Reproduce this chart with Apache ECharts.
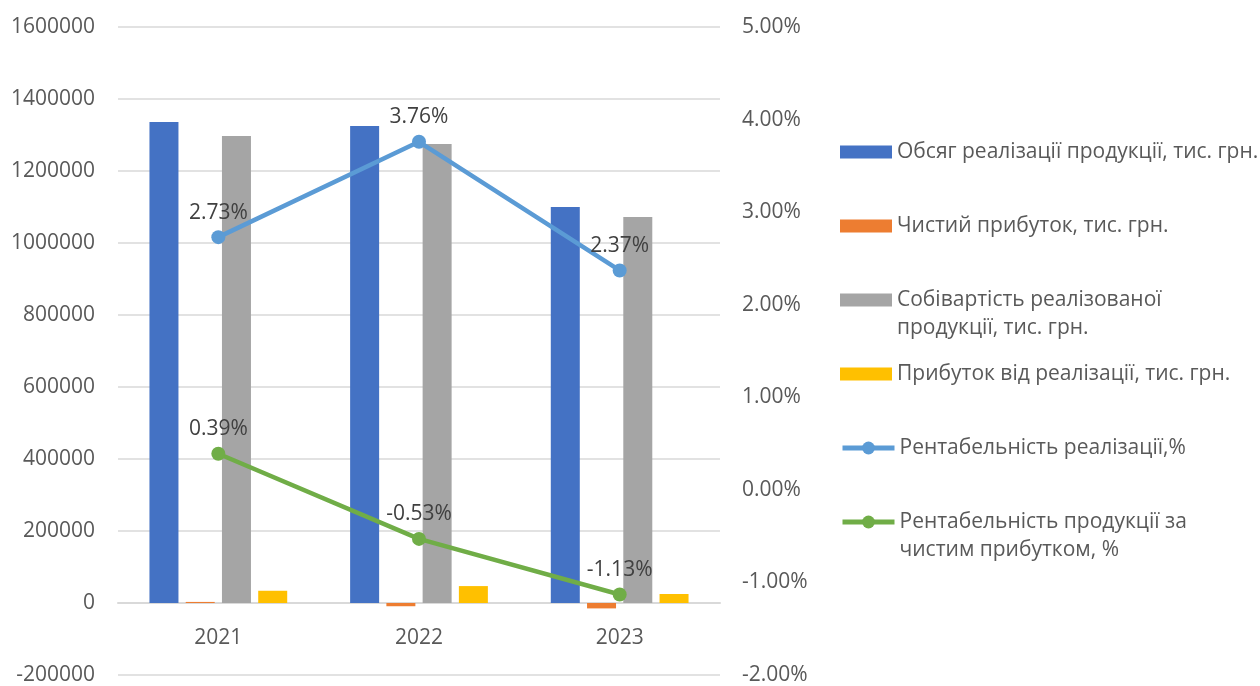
<!DOCTYPE html>
<html>
<head>
<meta charset="utf-8">
<script src="https://cdn.jsdelivr.net/npm/echarts@6/dist/echarts.min.js"></script>
<style>
html,body{margin:0;padding:0;background:#fff;}
#chart{width:1260px;height:686px;}
</style>
</head>
<body>
<div id="chart"></div>
<script>
const years = ['2021', '2022', '2023'];
const salesVolume = [1336000, 1325000, 1100000];
const netProfit = [3000, -9000, -15000];
const costOfSales = [1297000, 1275000, 1072000];
const salesProfit = [34000, 47000, 25000];
const salesProfitability = [2.73, 3.76, 2.37];
const netProfitability = [0.39, -0.53, -1.13];

const names = [
  'Обсяг реалізації продукції, тис. грн.',
  'Чистий прибуток, тис. грн.',
  'Собівартість реалізованої\nпродукції, тис. грн.',
  'Прибуток від реалізації, тис. грн.',
  'Рентабельність реалізації,%',
  'Рентабельність продукції за\nчистим прибутком, %'
];
const colors = ['#4472C4', '#ED7D31', '#A5A5A5', '#FFC000', '#5B9BD5', '#70AD47'];

const FONT = 'Open Sans';
const legendTops = [138, 212, 258, 360, 434, 480];

const legends = names.map((n, i) => {
  const twoLine = n.indexOf('\n') >= 0;
  const isLine = i >= 4;
  return {
    left: 840,
    top: legendTops[i],
    padding: 0,
    itemWidth: 52,
    itemHeight: isLine ? 16 : 13,
    selectedMode: false,
    icon: isLine ? undefined : 'rect',
    lineStyle: isLine ? { width: 5 } : undefined,
    data: [n],
    formatter: twoLine ? (name => '\n' + name) : undefined,
    textStyle: {
      fontFamily: FONT,
      fontSize: 21,
      lineHeight: 28,
      color: '#595959'
    }
  };
});

const barSeries = [salesVolume, netProfit, costOfSales, salesProfit].map((d, i) => ({
  name: names[i],
  type: 'bar',
  data: d,
  barWidth: 29,
  barGap: '25%',
  itemStyle: { color: colors[i] },
  yAxisIndex: 0
}));

const lineSeries = [salesProfitability, netProfitability].map((d, i) => ({
  name: names[4 + i],
  type: 'line',
  data: d,
  yAxisIndex: 1,
  symbol: 'circle',
  symbolSize: 14,
  lineStyle: { width: 4.5, color: colors[4 + i] },
  itemStyle: { color: colors[4 + i] },
  label: {
    show: true,
    position: 'top',
    distance: 7,
    formatter: p => p.value.toFixed(2) + '%',
    fontFamily: FONT,
    fontSize: 21,
    color: '#404040'
  },
  z: 5
}));

const chart = echarts.init(document.getElementById('chart'));
chart.setOption({
  animation: false,
  backgroundColor: '#fff',
  textStyle: { fontFamily: FONT },
  grid: { left: 118, right: 540, top: 27, bottom: 11, containLabel: false, outerBoundsMode: 'none' },
  legend: legends,
  xAxis: {
    type: 'category',
    data: years,
    axisLine: { show: true, onZero: true, lineStyle: { color: '#D9D9D9', width: 2 } },
    axisTick: { show: false },
    axisLabel: { fontFamily: FONT, fontSize: 21, color: '#595959', inside: true, margin: 26 }
  },
  yAxis: [
    {
      type: 'value',
      min: -200000,
      max: 1600000,
      interval: 200000,
      axisLine: { show: false },
      axisTick: { show: false },
      splitLine: { lineStyle: { color: '#D9D9D9', width: 1.5 } },
      axisLabel: { fontFamily: FONT, fontSize: 21, color: '#595959', margin: 23, formatter: v => String(v) }
    },
    {
      type: 'value',
      min: -2,
      max: 5,
      interval: 1,
      axisLine: { show: false },
      axisTick: { show: false },
      splitLine: { show: false },
      axisLabel: {
        fontFamily: FONT, fontSize: 21, color: '#595959', margin: 22,
        formatter: v => v.toFixed(2) + '%'
      }
    }
  ],
  series: barSeries.concat(lineSeries)
});
</script>
</body>
</html>
